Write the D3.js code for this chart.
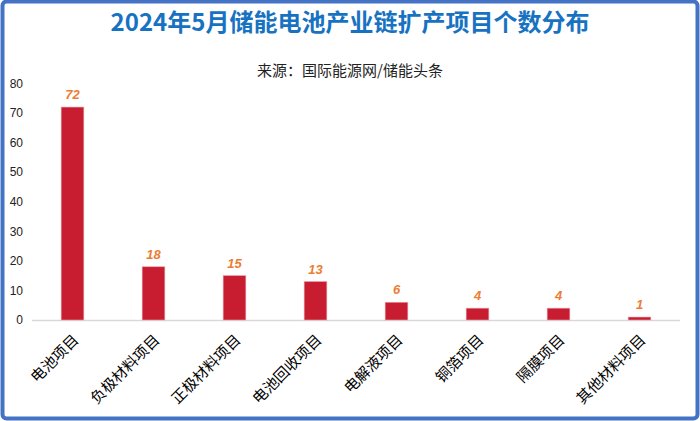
<!DOCTYPE html>
<html><head><meta charset="utf-8">
<script src="https://cdn.jsdelivr.net/npm/d3@7/dist/d3.min.js"></script>
<style>body{margin:0;background:#fff}svg{display:block}</style>
</head><body>
<script>
const categories = ["电池项目","负极材料项目","正极材料项目","电池回收项目","电解液项目","铜箔项目","隔膜项目","其他材料项目"];
const values = [72,18,15,13,6,4,4,1];
const yTicks = [0,10,20,30,40,50,60,70,80];
const title = "2024年5月储能电池产业链扩产项目个数分布";
const subtitle = "来源：国际能源网/储能头条";

const W=700,H=421;
const svg=d3.select("body").append("svg").attr("width",W).attr("height",H);
svg.append("rect").attr("x",2.5).attr("y",1.5).attr("width",W-5).attr("height",H-4)
  .attr("rx",4).attr("fill","#fff").attr("stroke","#4472C4").attr("stroke-width",4);

const font="'Noto Sans CJK SC','Microsoft YaHei',sans-serif";
svg.append("text").attr("x",350).attr("y",31).attr("text-anchor","middle")
  .attr("font-family",font).attr("font-size",24).attr("font-weight","bold").attr("fill","#1772C2").text(title);
svg.append("text").attr("x",350).attr("y",76).attr("text-anchor","middle")
  .attr("font-family",font).attr("font-size",15).attr("fill","#222").text(subtitle);

const x=d3.scaleBand().domain(categories).range([32,680]).paddingInner(0.72).paddingOuter(0.36);
const y=d3.scaleLinear().domain([0,80]).range([320,83.4]);

const ya=svg.append("g").attr("transform","translate(23,0)")
  .call(d3.axisLeft(y).tickValues(yTicks).tickSize(0).tickPadding(0));
ya.select(".domain").remove();
ya.selectAll("text").attr("font-family","'Liberation Sans',Arial,sans-serif").attr("font-size",12).attr("fill","#222");

svg.append("line").attr("x1",32).attr("x2",680).attr("y1",y(0)+0.5).attr("y2",y(0)+0.5).attr("stroke","#d9d9d9").attr("stroke-width",1.5);

svg.selectAll("rect.bar").data(values).join("rect").attr("class","bar")
  .attr("x",(d,i)=>x(categories[i])).attr("width",x.bandwidth())
  .attr("y",d=>y(d)).attr("height",d=>y(0)-y(d))
  .attr("fill","#C81D31").attr("stroke","#E8A0A8").attr("stroke-width",0.6);

svg.selectAll("text.val").data(values).join("text").attr("class","val")
  .attr("x",(d,i)=>x(categories[i])+x.bandwidth()/2).attr("y",d=>y(d)-8)
  .attr("text-anchor","middle").attr("font-family","'Liberation Sans',Arial,sans-serif")
  .attr("font-size",13).attr("font-weight","bold").attr("font-style","italic").attr("fill","#ED7D31").text(d=>d);

const xa=svg.append("g").attr("transform",`translate(0,${y(0)})`)
  .call(d3.axisBottom(x).tickSize(0).tickPadding(0));
xa.select(".domain").remove();
xa.selectAll("text").attr("font-family",font).attr("font-size",15).attr("fill","#000")
  .attr("text-anchor","end").attr("dy",0).attr("y",0)
  .attr("transform","translate(7,21) rotate(-45)");
</script>
</body></html>
